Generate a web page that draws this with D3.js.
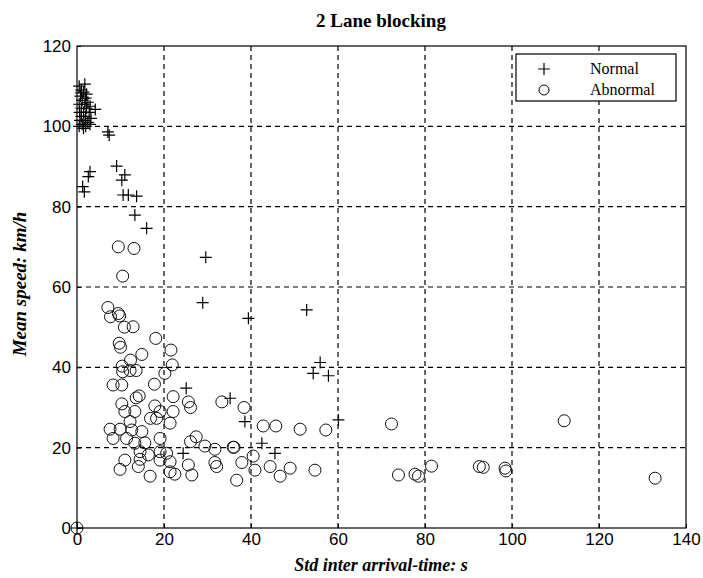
<!DOCTYPE html>
<html>
<head>
<meta charset="utf-8">
<script src="https://cdn.jsdelivr.net/npm/d3@7"></script>
<style>
  body { margin: 0; background: #fff; }
  svg { display: block; }
</style>
</head>
<body>
<svg width="703" height="578"></svg>
<script>
// data: [std inter arrival-time (s), mean speed (km/h)]
var normal = [
  [0, 0],
  [0.5, 110], [1, 109], [1.5, 108.5], [0.8, 107.5], [2, 107], [1.2, 106.5], [2.5, 106],
  [0.5, 105.5], [1.8, 105.5], [3, 105], [1, 104.5], [2.2, 104.5], [4.2, 104.2], [0.6, 103.5],
  [1.5, 103.5], [2.8, 103.5], [1, 102.5], [2, 102.5], [3.2, 102], [0.7, 101.5], [1.6, 101.5],
  [2.5, 101], [1.2, 100.5], [2, 100], [0.5, 100], [1.5, 99.5], [3, 100.5], [2.2, 108],
  [1.8, 110.5], [0.9, 108.3],
  [7.1, 98.6], [7.4, 97.8],
  [3.0, 88.7], [2.6, 87.5], [1.3, 85], [1.7, 83.7],
  [9.1, 90.1], [11.0, 87.9], [10.3, 86.6], [10.6, 82.9], [11.8, 82.9], [13.7, 82.6],
  [13.3, 77.9], [16.0, 74.6], [29.6, 67.4], [28.9, 56.1],
  [39.4, 52.2], [52.8, 54.3], [55.9, 41.2], [54.3, 38.5], [57.8, 37.9], [60.1, 26.9],
  [38.6, 26.5], [35.2, 32.3], [42.5, 21.1], [45.5, 18.6], [25.1, 34.8], [24.4, 18.6]
];

var abnormal = [
  [0, 0],
  [9.5, 70.0], [13.1, 69.6], [10.5, 62.7], [7.1, 54.9], [7.7, 52.6], [9.5, 53.4], [9.8, 52.8],
  [10.9, 50.0], [12.9, 50.1], [18.1, 47.2], [9.7, 46.0], [10.0, 45.0], [12.3, 41.8], [14.9, 43.2],
  [21.6, 44.3], [21.9, 40.6], [10.4, 40.3], [10.5, 38.9], [12.2, 39.2], [13.6, 39.2], [20.2, 38.5],
  [8.3, 35.6], [10.3, 35.6], [17.8, 35.8], [22.1, 32.7], [14.3, 32.9], [13.6, 32.4], [25.6, 31.4],
  [26.1, 30.0], [33.3, 31.4], [10.3, 30.9], [11.0, 29.0], [13.3, 29.0], [17.9, 30.4], [19.1, 29.0],
  [22.1, 29.0], [16.9, 27.3], [18.3, 27.3], [12.2, 26.5], [21.4, 26.1], [7.6, 24.6], [9.9, 24.6],
  [12.6, 24.4], [14.9, 24.0], [19.1, 22.3], [8.3, 22.3], [11.4, 22.3], [13.3, 21.1], [15.6, 21.2],
  [27.4, 22.7], [26.1, 21.5], [29.4, 20.4], [31.7, 19.6], [35.9, 20.1], [14.5, 19.0], [16.4, 18.2],
  [19.1, 19.0], [20.6, 18.6], [11.0, 16.9], [14.5, 17.1], [19.1, 16.9], [21.4, 16.5], [25.6, 15.7],
  [31.7, 16.3], [32.1, 15.3], [36.7, 11.9], [9.9, 14.6], [14.1, 15.3], [16.8, 12.9], [21.4, 14.0],
  [22.5, 13.4], [26.4, 13.2],
  [38.4, 30.0], [42.8, 25.4], [45.7, 25.4], [51.3, 24.6], [57.2, 24.4], [72.3, 25.9], [36.1, 20.1],
  [40.5, 17.9], [37.9, 16.3], [40.9, 14.4], [44.4, 15.3], [46.7, 12.9], [49.0, 14.9], [54.7, 14.4],
  [73.9, 13.2], [77.7, 13.4], [78.5, 12.9], [81.5, 15.4],
  [112, 26.7], [92.5, 15.3], [93.4, 15.1], [98.4, 14.9], [98.6, 14.2], [132.9, 12.4]
];

var xTicks = [0, 20, 40, 60, 80, 100, 120, 140];
var yTicks = [0, 20, 40, 60, 80, 100, 120];
var seriesNames = ["Normal", "Abnormal"];

(function() {
  var svg = d3.select("svg");
  var left = 77, right = 686, plotTop = 46, bottom = 528;

  var x = d3.scaleLinear().domain([0, 140]).range([left, right]);
  var y = d3.scaleLinear().domain([0, 120]).range([bottom, plotTop]);

  // grid
  var grid = svg.append("g").attr("stroke", "#000").attr("stroke-width", 1.2).attr("stroke-dasharray", "5,4");
  grid.selectAll(".gx").data(xTicks.slice(1, -1)).enter().append("line")
    .attr("x1", function(d) { return x(d); }).attr("x2", function(d) { return x(d); })
    .attr("y1", plotTop).attr("y2", bottom);
  grid.selectAll(".gy").data(yTicks.slice(1, -1)).enter().append("line")
    .attr("y1", function(d) { return y(d); }).attr("y2", function(d) { return y(d); })
    .attr("x1", left).attr("x2", right);

  // axes
  var xAxis = svg.append("g").attr("transform", "translate(0," + bottom + ")")
    .call(d3.axisBottom(x).tickValues(xTicks).tickSize(-4).tickPadding(5));
  var yAxis = svg.append("g").attr("transform", "translate(" + left + ",0)")
    .call(d3.axisLeft(y).tickValues(yTicks).tickSize(-4).tickPadding(6));
  [xAxis, yAxis].forEach(function(a) {
    a.selectAll("text").attr("font-family", "Liberation Sans, Arial, sans-serif").attr("font-size", 17).attr("fill", "#000");
    a.select(".domain").remove();
  });

  svg.append("rect")
    .attr("x", left).attr("y", plotTop).attr("width", right - left).attr("height", bottom - plotTop)
    .attr("fill", "none").attr("stroke", "#000").attr("stroke-width", 1.2);

  // markers
  svg.append("g").selectAll("circle").data(abnormal).enter().append("circle")
    .attr("cx", function(d) { return x(d[0]); })
    .attr("cy", function(d) { return y(d[1]); })
    .attr("r", 6)
    .attr("fill", "none").attr("stroke", "#111").attr("stroke-width", 1);

  var plus = svg.append("g").attr("stroke", "#000").attr("stroke-width", 1.2);
  plus.selectAll("path").data(normal).enter().append("path")
    .attr("d", function(d) {
      var cx = x(d[0]), cy = y(d[1]);
      return "M" + (cx - 6) + "," + cy + "H" + (cx + 6) + "M" + cx + "," + (cy - 6) + "V" + (cy + 6);
    });

  // legend
  var lg = svg.append("g");
  lg.append("rect").attr("x", 516).attr("y", 54).attr("width", 160).attr("height", 47)
    .attr("fill", "#fff").attr("stroke", "#000").attr("stroke-width", 1.2);
  lg.append("path").attr("d", "M538,69H550M544,63V75").attr("stroke", "#000").attr("stroke-width", 1.2);
  lg.append("circle").attr("cx", 544).attr("cy", 90).attr("r", 5).attr("fill", "none").attr("stroke", "#000");
  lg.selectAll("text").data(seriesNames).enter().append("text")
    .attr("x", 590).attr("y", function(d, i) { return 74 + i * 21; })
    .attr("font-family", "Liberation Serif, Times New Roman, serif").attr("font-size", 16)
    .text(function(d) { return d; });

  // titles
  svg.append("text").attr("x", 381).attr("y", 27).attr("text-anchor", "middle")
    .attr("font-family", "Liberation Serif, Times New Roman, serif").attr("font-weight", "bold").attr("font-size", 19)
    .text("2 Lane blocking");
  svg.append("text").attr("x", 381).attr("y", 571).attr("text-anchor", "middle")
    .attr("font-family", "Liberation Serif, Times New Roman, serif").attr("font-weight", "bold").attr("font-style", "italic").attr("font-size", 18)
    .text("Std inter arrival-time: s");
  svg.append("text").attr("transform", "translate(26,284) rotate(-90)").attr("text-anchor", "middle")
    .attr("font-family", "Liberation Serif, Times New Roman, serif").attr("font-weight", "bold").attr("font-style", "italic").attr("font-size", 19)
    .text("Mean speed: km/h");
})();
</script>
</body>
</html>
